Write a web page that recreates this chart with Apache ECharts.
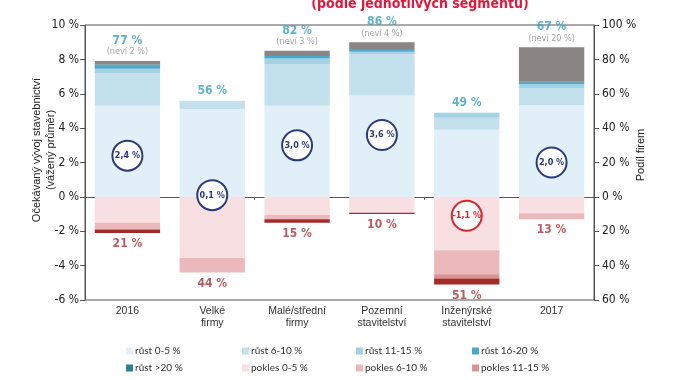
<!DOCTYPE html>
<html><head><meta charset="utf-8">
<script src="https://cdn.jsdelivr.net/npm/echarts@6/dist/echarts.min.js"></script>
<style>html,body{margin:0;padding:0;background:#fff}#c{width:674px;height:380px}</style>
</head><body><div id="c"></div>
<script>
var categories = ['2016', 'Velké\nfirmy', 'Malé/střední\nfirmy', 'Pozemní\nstavitelství', 'Inženýrské\nstavitelství', '2017'];
var rust0_5   = [53, 51, 53, 59, 39, 53.5];
var rust6_10  = [19, 5, 24, 24, 7, 9.5];
var rust11_15 = [2.5, 0, 3.5, 1.5, 3, 2.5];
var rust16_20 = [2, 0, 1.5, 1.5, 0, 1];
var rust20    = [0.5, 0, 0, 0, 0, 0.5];
var nevi      = [2, 0, 3, 4, 0, 20];
var pokles0_5   = [15, 35.5, 10.5, 9.3, 31, 9.5];
var pokles6_10  = [4, 8.5, 2.5, 0, 14, 3.5];
var pokles11_15 = [0, 0, 0, 0, 2.5, 0];
var pokles16_20 = [0, 0, 0, 0, 0, 0];
var pokles20    = [2, 0, 2, 0.7, 3.5, 0];
var weightedAvg = [2.4, 0.1, 3.0, 3.6, -1.1, 2.0];
var leftTicks = {min: -6, max: 10, interval: 2};
var rightTicks = {min: -60, max: 100, interval: 20};
var legendOrder = ['růst 0-5 %', 'růst 6-10 %', 'růst 11-15 %', 'růst 16-20 %',
  'růst >20 %', 'pokles 0-5 %', 'pokles 6-10 %', 'pokles 11-15 %',
  'pokles 16-20 %', 'pokles >20 %', 'neví'];

var NARROW = "'Liberation Sans Narrow','DejaVu Sans Condensed',sans-serif";
var posSeries = [
  ['růst 0-5 %', rust0_5, '#e1f0f8'],
  ['růst 6-10 %', rust6_10, '#c3e1ed'],
  ['růst 11-15 %', rust11_15, '#a4d1e3'],
  ['růst 16-20 %', rust16_20, '#4aa9ca'],
  ['růst >20 %', rust20, '#2b7f97'],
  ['neví', nevi, '#8a8584']
];
var negSeries = [
  ['pokles 0-5 %', pokles0_5, '#f7dfe2'],
  ['pokles 6-10 %', pokles6_10, '#ebb9bc'],
  ['pokles 11-15 %', pokles11_15, '#dd9393'],
  ['pokles 16-20 %', pokles16_20, '#c45656'],
  ['pokles >20 %', pokles20, '#a22a27']
];
var series = [];
posSeries.forEach(function (s) {
  series.push({name: s[0], type: 'bar', stack: 'a', yAxisIndex: 1, xAxisIndex: 0, barWidth: '77%',
    data: s[1], itemStyle: {color: s[2]}});
});
negSeries.forEach(function (s) {
  series.push({name: s[0], type: 'bar', stack: 'a', yAxisIndex: 1, xAxisIndex: 0, barWidth: '77%',
    data: s[1].map(function (v) { return -v; }), itemStyle: {color: s[2]}});
});
var posTot = categories.map(function (c, i) {
  return rust0_5[i] + rust6_10[i] + rust11_15[i] + rust16_20[i] + rust20[i];
});
var negTot = categories.map(function (c, i) {
  return pokles0_5[i] + pokles6_10[i] + pokles11_15[i] + pokles16_20[i] + pokles20[i];
});
series.push({type: 'scatter', yAxisIndex: 1, xAxisIndex: 0, symbolSize: 0, silent: true,
  data: categories.map(function (c, i) { return posTot[i] + nevi[i]; }),
  label: {show: true, position: 'top', distance: 4,
    formatter: function (p) {
      var i = p.dataIndex;
      var s = '{a|' + Math.round(posTot[i]) + ' %}';
      if (nevi[i] > 0) s += '\n{b|(neví ' + Math.round(nevi[i]) + ' %)}';
      return s;
    },
    rich: {
      a: {fontFamily: NARROW, fontWeight: 'bold', fontSize: 12, color: '#3a9cbf', lineHeight: 12, align: 'center'},
      b: {fontFamily: NARROW, fontSize: 9, color: '#8d8d8d', lineHeight: 10, align: 'center'}
    }}
});
series.push({type: 'scatter', yAxisIndex: 1, xAxisIndex: 0, symbolSize: 0, silent: true,
  data: negTot.map(function (v) { return -v; }),
  label: {show: true, position: 'bottom', distance: 5,
    formatter: function (p) { return Math.round(negTot[p.dataIndex]) + ' %'; },
    fontFamily: NARROW, fontWeight: 'bold', fontSize: 12, color: '#a83237'}
});
series.push({type: 'scatter', yAxisIndex: 0, xAxisIndex: 0, symbol: 'circle', symbolSize: 30, z: 5, silent: true,
  data: weightedAvg.map(function (v) {
    var neg = v < 0;
    return {value: v,
      itemStyle: {color: '#ffffff', borderColor: neg ? '#d6262f' : '#2b3b7c', borderWidth: 2, opacity: 1},
      label: {color: neg ? '#d6262f' : '#2b3b7c'}};
  }),
  label: {show: true, position: 'inside', fontFamily: NARROW, fontWeight: 'bold', fontSize: 9,
    formatter: function (p) { return String(p.value.toFixed(1)).replace('.', ',') + ' %'; }}
});

var colX = [126, 242, 356, 472];
var rowY = [346, 363, 380];
var legends = legendOrder.map(function (name, k) {
  return {orient: 'horizontal', left: colX[k % 4], top: rowY[Math.floor(k / 4)], itemWidth: 7, itemHeight: 7,
    selectedMode: false, icon: 'rect', data: [name], padding: 0,
    textStyle: {fontFamily: 'Lato', fontSize: 10, color: '#333', padding: [0, 0, 0, -3]}};
});

var axisLabelStyle = {fontFamily: NARROW, fontSize: 12, color: '#222'};
var option = {
  animation: false,
  grid: {left: 85, right: 80, top: 25, bottom: 80, show: true, borderColor: '#555', borderWidth: 1, backgroundColor: 'transparent'},
  legend: legends,
  xAxis: [
    {type: 'category', data: categories, position: 'bottom',
      axisLine: {show: false, onZero: false}, axisTick: {show: false},
      axisLabel: {fontFamily: "'Liberation Sans',Arial,sans-serif", fontSize: 10.5, color: '#333', margin: 5, lineHeight: 12, interval: 0}},
    {type: 'category', data: categories, position: 'bottom',
      axisLine: {show: true, onZero: true, onZeroAxisIndex: 0, lineStyle: {color: '#555', width: 1}},
      axisTick: {show: true, length: 3, lineStyle: {color: '#555'}}, axisLabel: {show: false}}
  ],
  yAxis: [
    {type: 'value', position: 'left', min: leftTicks.min, max: leftTicks.max, interval: leftTicks.interval,
      splitLine: {show: false},
      axisLine: {show: true, lineStyle: {color: '#555'}}, axisTick: {show: true, length: 5, lineStyle: {color: '#555'}},
      axisLabel: Object.assign({margin: 6, formatter: function (v) { return v + ' %'; }}, axisLabelStyle)},
    {type: 'value', position: 'right', min: rightTicks.min, max: rightTicks.max, interval: rightTicks.interval,
      splitLine: {show: false},
      axisLine: {show: true, lineStyle: {color: '#555'}}, axisTick: {show: true, length: 5, lineStyle: {color: '#555'}},
      axisLabel: Object.assign({margin: 8, formatter: function (v) { return Math.abs(v) + ' %'; }}, axisLabelStyle)}
  ],
  graphic: [
    {type: 'text', x: 420, y: 11, style: {text: '(podle jednotlivých segmentů)', fill: '#e3173b',
      font: "bold 14px " + NARROW, textAlign: 'center', textVerticalAlign: 'bottom'}},
    {type: 'text', x: 44, y: 150, rotation: Math.PI / 2, style: {text: 'Očekávaný vývoj stavebnictví\n(vážený průměr)',
      fill: '#222', font: "11px 'Liberation Sans',Arial,sans-serif", textAlign: 'center', textVerticalAlign: 'middle', lineHeight: 14}},
    {type: 'text', x: 641, y: 155, rotation: Math.PI / 2, style: {text: 'Podíl firem',
      fill: '#222', font: "11px 'Liberation Sans',Arial,sans-serif", textAlign: 'center', textVerticalAlign: 'middle'}}
  ],
  series: series
};
var chart = echarts.init(document.getElementById('c'), null, {renderer: 'canvas'});
chart.setOption(option);
</script></body></html>
